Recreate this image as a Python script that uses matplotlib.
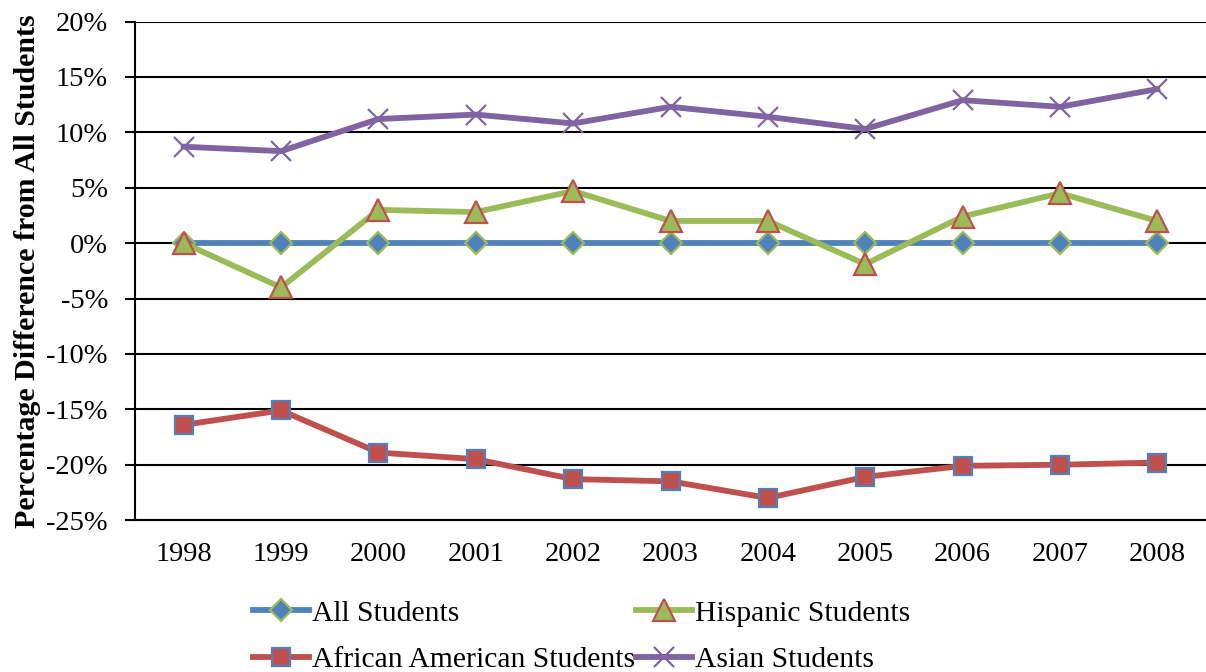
import numpy as np
import matplotlib.pyplot as plt
from matplotlib.ticker import FuncFormatter

years = ['1998', '1999', '2000', '2001', '2002', '2003', '2004', '2005', '2006', '2007', '2008']
all_students = [0, 0, 0, 0, 0, 0, 0, 0, 0, 0, 0]
hispanic = [0.0, -4.0, 3.0, 2.8, 4.7, 2.0, 2.0, -1.9, 2.4, 4.5, 2.0]
african_american = [-16.4, -15.1, -18.9, -19.5, -21.3, -21.5, -23.0, -21.1, -20.1, -20.0, -19.8]
asian = [8.7, 8.3, 11.2, 11.6, 10.8, 12.3, 11.4, 10.3, 12.9, 12.3, 13.9]

blue = '#4F81BD'
red = '#C0504D'
green = '#9BBB59'
purple = '#8064A2'

plt.rcParams['font.family'] = ['Liberation Serif', 'DejaVu Serif']

fig = plt.figure(figsize=(12.06, 6.72), dpi=100)
ax = fig.add_axes([0.112, 0.226, 0.888, 0.742])

x = np.arange(len(years))
lw = 4.2
h_all, = ax.plot(x, all_students, color=blue, lw=lw, marker='D', ms=11,
                 mfc=blue, mec=green, mew=1.6, label='All Students', zorder=3)
h_his, = ax.plot(x, hispanic, color=green, lw=lw, marker='^', ms=16,
                 mfc=green, mec=red, mew=1.6, label='Hispanic Students', zorder=4)
h_afr, = ax.plot(x, african_american, color=red, lw=lw, marker='s', ms=13.5,
                 mfc=red, mec=blue, mew=1.6, label='African American Students', zorder=3)
h_asi, = ax.plot(x, asian, color=purple, lw=lw, marker='x', ms=15,
                 mec=purple, mew=1.6, label='Asian Students', zorder=3)

ax.set_xlim(-0.5, len(years) - 0.5)
ax.set_ylim(-25, 20)
ax.set_yticks(np.arange(-25, 21, 5))
ax.yaxis.set_major_formatter(FuncFormatter(lambda v, p: f'{v:.0f}%'))
ax.set_xticks(x)
ax.set_xticklabels(years)
ax.tick_params(axis='x', length=0, labelsize=20.5, pad=16)
ax.tick_params(axis='y', length=7, width=1.5, labelsize=20.5, direction='out', pad=12.5)
ax.grid(axis='y', color='black', lw=1.5)
ax.set_axisbelow(True)
for s in ['top', 'right']:
    ax.spines[s].set_visible(False)
ax.spines['left'].set_linewidth(1.5)
ax.spines['bottom'].set_linewidth(1.5)

ax.set_ylabel('Percentage Difference from All Students', fontsize=21.5, fontweight='bold')
ax.yaxis.set_label_coords(-0.088, 0.5)

fig.legend([h_all, h_afr, h_his, h_asi],
           ['All Students', 'African American Students', 'Hispanic Students', 'Asian Students'],
           loc='upper left', bbox_to_anchor=(0.2, 0.125), ncol=2, frameon=False,
           fontsize=21.3, handlelength=1.9, handletextpad=0.08, columnspacing=0.05,
           labelspacing=0.68, borderaxespad=0)

fig.savefig('out.png', dpi=100)
